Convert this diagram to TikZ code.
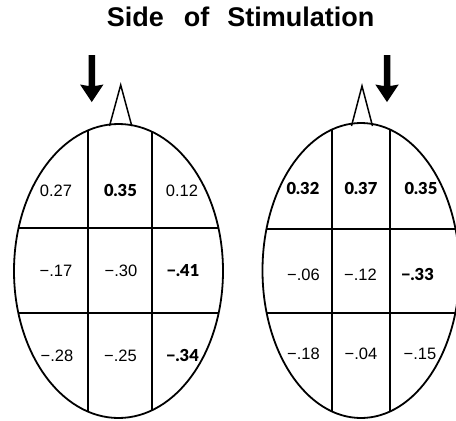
\documentclass[tikz,border=0pt]{standalone}
\usepackage{fontspec}
\setmainfont{Liberation Sans}
\newfontfamily\plainfont{Liberation Sans}
\newfontfamily\heavyfont{Lato Black}
\newfontfamily\titlefont{Liberation Sans Bold}
\begin{document}
\begin{tikzpicture}[x=1pt,y=-1pt,
  outline/.style={line width=1.8pt},
  gridline/.style={line width=1.5pt},
  num/.style={anchor=base,inner sep=0pt,font=\fontsize{16.5}{16.5}\plainfont},
  bnum/.style={anchor=base,inner sep=0pt,font=\fontsize{16.5}{16.5}\heavyfont},
  arrowshape/.style={fill=black,draw=none}]
\useasboundingbox (0,0) rectangle (456,421);
\clip (0,0) rectangle (456,421);

% title
\node[anchor=base,inner sep=0pt,font=\fontsize{27}{27}\titlefont] (title) at (240.5,26.7) {Side\hspace{20pt}of\hspace{18pt}Stimulation};

% arrows
\fill[arrowshape] (88.5,55) -- (95,55) -- (95,86) -- (103.5,84.5) -- (91.75,102) -- (80,84.5) -- (88.5,86) -- cycle;
\fill[arrowshape] (383.75,55) -- (390.25,55) -- (390.25,86) -- (398.75,84.5) -- (387,102) -- (375.25,84.5) -- (383.75,86) -- cycle;

% noses
\draw[gridline,line join=miter] (109.5,126) -- (120.7,85) -- (131.8,126);
\draw[gridline,line join=miter] (351.5,126) -- (362,86) -- (372.5,126);

% left head grid
\begin{scope}
\clip (118.5,271) ellipse [x radius=104.5, y radius=147];
\draw[gridline] (88,100) -- (88,440);
\draw[gridline] (152,100) -- (152,440);
\draw[gridline] (0,228) -- (240,228);
\draw[gridline] (0,313) -- (240,313);
\end{scope}

% right head grid
\begin{scope}
\clip (361,270.5) ellipse [x radius=98.5, y radius=147.5];
\draw[gridline] (332,100) -- (332,440);
\draw[gridline] (390,100) -- (390,440);
\draw[gridline] (240,229) -- (470,229);
\draw[gridline] (240,313) -- (470,313);
\end{scope}

% left values
\node[num]  (l11) at (56,196) {0.27};
\node[bnum] (l12) at (120.5,196) {0.35};
\node[num]  (l13) at (182,196) {0.12};
\node[num]  (l21) at (56,276) {−.17};
\node[num]  (l22) at (121,276) {−.30};
\node[bnum] (l23) at (183,276) {−.41};
\node[num]  (l31) at (57,361) {−.28};
\node[num]  (l32) at (120.5,361) {−.25};
\node[bnum] (l33) at (182.5,361) {−.34};

% right values
\node[bnum] (r11) at (303,194) {0.32};
\node[bnum] (r12) at (361,194) {0.37};
\node[bnum] (r13) at (421,194) {0.35};
\node[num]  (r21) at (303.5,280) {−.06};
\node[num]  (r22) at (360.5,280) {−.12};
\node[bnum] (r23) at (417.5,280) {−.33};
\node[num]  (r31) at (303.5,359) {−.18};
\node[num]  (r32) at (361,359) {−.04};
\node[num]  (r33) at (420,359) {−.15};

% head outlines
\draw[outline] (118.5,271) ellipse [x radius=104.5, y radius=147];
\draw[outline] (361,270.5) ellipse [x radius=98.5, y radius=147.5];
\end{tikzpicture}
\end{document}
